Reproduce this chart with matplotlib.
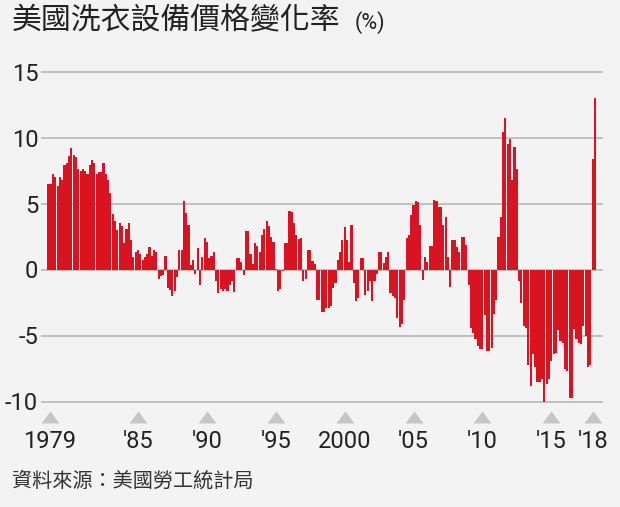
import matplotlib
matplotlib.use("Agg")
import matplotlib.pyplot as plt
import numpy as np
from matplotlib import font_manager as fm
from matplotlib.path import Path

# price change of laundry equipment (%), roughly bimonthly from 1979
values = [
    6.5, 6.5, 7.25, 7.0, 6.3, 7.0, 6.8, 7.95, 8.1, 8.6,
    9.2, 8.7, 8.5, 7.6, 7.45, 7.6, 7.45, 7.25, 7.95, 8.3,
    8.1, 7.25, 7.4, 7.4, 8.1, 7.25, 6.8, 5.8, 4.2, 3.7,
    3.0, 3.5, 3.3, 2.0, 3.1, 3.5, 2.25, 0.93, 1.3, 1.5,
    1.2, 0.75, 0.95, 1.2, 1.7, 1.05, 1.5, 1.3, -0.7, -0.5,
    -0.45, 1.0, -1.4, -1.55, -2.0, -1.65, -0.6, 1.45, 1.5, 5.2,
    4.25, 3.4, 0.35, 0.7, -0.35, 1.65, -1.2, 0.95, 2.4, 2.05,
    0.85, 1.05, 1.3, -0.85, -1.8, -1.45, -1.6, -1.45, -1.65, -1.2,
    -0.85, -1.7, 0.9, 0.9, 0.55, -0.45, 2.9, 2.9, 1.2, 0.45,
    2.0, 1.8, 1.35, 2.6, 3.05, 3.7, 3.3, 2.5, 2.05, 0.05,
    -1.65, -1.5, -0.1, 2.0, 2.0, 4.4, 4.35, 3.5, 2.6, 2.3,
    2.35, -0.85, -0.75, 1.5, 1.5, 0.65, 0.45, -2.3, -2.3, -3.25,
    -3.25, -2.9, -2.9, -2.8, -1.4, -1.05, 0.75, 1.35, 2.25, 3.2,
    2.25, 0.57, 3.35, -1.0, -2.35, -2.15, 0.9, 0.9, -1.9, -1.65,
    -0.85, -2.35, -0.85, -0.35, 1.3, 1.3, 0.5, 0.95, 1.35, -1.75,
    -2.0, -2.15, -3.7, -4.35, -4.1, -2.3, 2.4, 2.65, 4.1, 4.9,
    5.2, 5.15, 3.35, -0.8, 0.95, 0.6, 1.75, 1.75, 5.3, 5.2,
    4.7, 4.7, 3.35, 4.0, 0.95, -1.3, 2.2, 2.2, 1.7, 1.35,
    2.45, 2.45, 1.85, -1.2, -4.45, -4.8, -5.3, -5.8, -6.0, -6.0,
    -3.45, -6.2, -6.2, -5.95, -3.35, -2.3, 2.5, 4.0, 10.4, 11.45,
    9.5, 9.9, 6.75, 9.25, 7.65, -0.85, -2.55, -4.3, -4.45, -7.25,
    -8.8, -6.4, -7.4, -8.5, -8.5, -8.3, -10.0, -8.7, -8.3, -6.9,
    -6.4, -6.3, -4.55, -5.4, -5.55, -7.55, -7.7, -9.75, -9.75, -4.5,
    -5.3, -5.55, -5.65, -4.25, -5.05, -7.4, -7.25, 8.4, 13.0,
]

tick_years = [1979, 1985, 1990, 1995, 2000, 2005, 2010, 2015, 2018]
tick_labels = ["1979", "'85", "'90", "'95", "2000", "'05", "'10", "'15", "'18"]
y_ticks = [15, 10, 5, 0, -5, -10]

title = "美國洗衣設備價格變化率"
unit = "(%)"
source = "資料來源：美國勞工統計局"


def pick(names):
    for n in names:
        try:
            fm.findfont(n, fallback_to_default=False)
            return n
        except Exception:
            pass
    return "DejaVu Sans"


num_font = pick(["Roboto", "Liberation Sans", "DejaVu Sans"])
cjk_font = pick(["Noto Sans CJK TC", "Noto Sans CJK SC"])

bg = "#f3f3f3"
red = "#d7141f"
grid_c = "#bcbcbc"
tri_c = "#c6c6c6"
txt_c = "#222222"

W, H = 620, 507
fig = plt.figure(figsize=(W / 100, H / 100), dpi=100, facecolor=bg)

# axes placed in pixel terms
px_per_bar = 2.296
x0_center = 48.45
px_per_unit = 13.2
y_zero = 269.5
ax_left, ax_right = 41, 603
ylo, yhi = -11, 15.5
top_px = y_zero - yhi * px_per_unit
bot_px = y_zero - ylo * px_per_unit
ax = fig.add_axes([ax_left / W, 1 - bot_px / H, (ax_right - ax_left) / W, (bot_px - top_px) / H])
ax.set_facecolor(bg)
ax.set_xlim((ax_left - x0_center) / px_per_bar, (ax_right - x0_center) / px_per_bar)
ax.set_ylim(ylo, yhi)

for v in y_ticks:
    ax.axhline(v, color=grid_c, lw=1.3, zorder=0)

x = np.arange(len(values))
ax.bar(x, values, width=0.92, color=red, linewidth=0, zorder=2)

for s in ax.spines.values():
    s.set_visible(False)
ax.set_xticks([])
ax.set_yticks(y_ticks)
ax.set_yticklabels([str(v) for v in y_ticks], fontsize=17, family=num_font, color=txt_c)
ax.tick_params(axis="y", length=0, pad=2)

# year markers: triangle + label under the axis
tick_pos = (np.array(tick_years) - 1978.5) * 6
tick_pos[0] = 0.7  # first marker sits at the axis start
tri = Path([(-1.5, -1), (1.5, -1), (0, 1), (-1.5, -1)],
           [Path.MOVETO, Path.LINETO, Path.LINETO, Path.CLOSEPOLY])
trans = ax.get_xaxis_transform()
tri_y = (bot_px - 417) / (bot_px - top_px)
lab_y = (bot_px - 442) / (bot_px - top_px)
ax.plot(tick_pos, [tri_y] * len(tick_pos), ls="none", marker=tri, ms=13,
        color=tri_c, mec="none", transform=trans, clip_on=False)
for p, lab in zip(tick_pos, tick_labels):
    ax.text(p, lab_y, lab, transform=trans, ha="center", va="center",
            fontsize=17, family=num_font, color=txt_c)

fig.text(12 / W, 1 - 21 / H, title, fontsize=21.5, family=cjk_font,
         color=txt_c, ha="left", va="center")
fig.text(355 / W, 1 - 23 / H, unit, fontsize=15.5, family=num_font,
         color=txt_c, ha="left", va="center")
fig.text(12 / W, 1 - 481 / H, source, fontsize=14.5, family=cjk_font,
         color="#333333", ha="left", va="center")

fig.savefig("out.png", dpi=100, facecolor=bg)
